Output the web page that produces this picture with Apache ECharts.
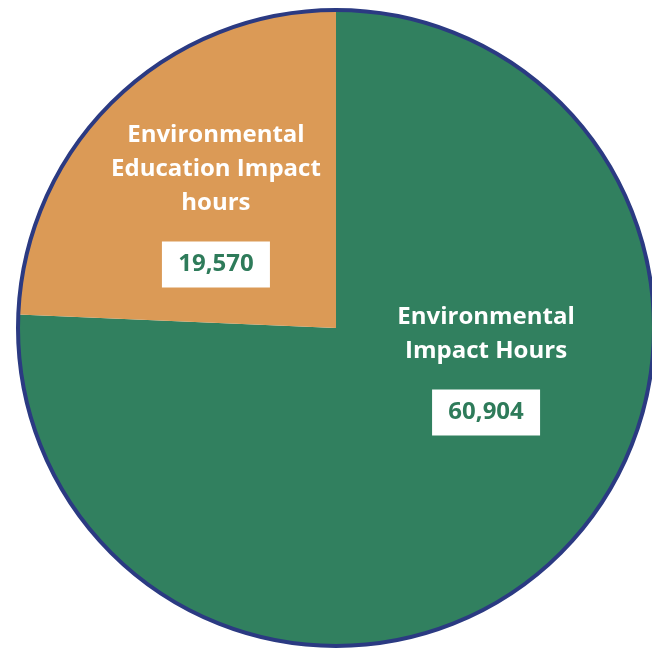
<!DOCTYPE html>
<html>
<head>
<meta charset="utf-8">
<script src="https://cdn.jsdelivr.net/npm/echarts@6/dist/echarts.min.js"></script>
<style>
  html, body { margin: 0; padding: 0; background: #fff; }
  #chart { width: 652px; height: 652px; }
</style>
</head>
<body>
<div id="chart"></div>
<script>
// slice data, clockwise from 12 o'clock
const names = ['Environmental\nImpact Hours', 'Environmental\nEducation Impact\nhours']
const values = [60904, 19570]
const colors = ['#31805f', '#db9a56']

const chart = echarts.init(document.getElementById('chart'))

const fmt = (v) => v.toLocaleString('en-US')

const total = values.reduce((a, b) => a + b, 0)

chart.setOption({
  animation: false,
  series: [
    {
      type: 'pie',
      center: [336, 328],
      radius: 318,
      startAngle: 90,
      silent: true,
      itemStyle: { borderWidth: 0 },
      label: {
        show: true,
        position: 'inside',
        formatter: (p) => {
          const lines = p.name.split('\n').map(s => '{name|' + s + '}')
          return lines.join('\n') + '\n{gap|}\n{val|' + fmt(p.value) + '}'
        },
        rich: {
          name: {
            fontFamily: 'Open Sans',
            fontWeight: 'bold',
            fontSize: 24,
            color: '#fff',
            lineHeight: 34
          },
          gap: { lineHeight: 21 },
          val: {
            fontFamily: 'Open Sans',
            fontWeight: 'bold',
            fontSize: 24,
            color: '#2e7b5a',
            backgroundColor: '#fff',
            width: 80,
            height: 26,
            align: 'center',
            padding: [10, 14]
          }
        }
      },
      labelLine: { show: false },
      labelLayout: (p) => p.dataIndex === 0 ? { dx: 38, dy: -77 } : { dx: -8, dy: -8 },
      data: values.map((v, i) => ({
        name: names[i],
        value: v,
        itemStyle: { color: colors[i] }
      }))
    },
    {
      // outline ring
      type: 'pie',
      center: [336, 328],
      radius: 318,
      silent: true,
      label: { show: false },
      labelLine: { show: false },
      itemStyle: { color: 'none', borderColor: '#2b3a82', borderWidth: 4 },
      data: [{ value: total }]
    }
  ]
})
</script>
</body>
</html>
